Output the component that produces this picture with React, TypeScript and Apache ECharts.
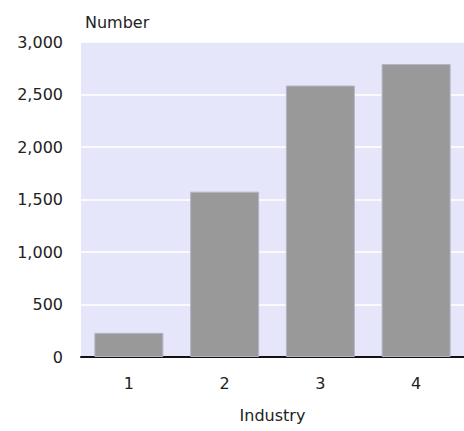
import React, { useEffect, useRef } from "react";
import * as echarts from "echarts";

const categories = ["1", "2", "3", "4"];
const values = [230, 1575, 2585, 2790];
const xAxisName = "Industry";
const yAxisName = "Number";

const FONT = "DejaVu Sans";

export default function App() {
  const ref = useRef<HTMLDivElement>(null);
  useEffect(() => {
    if (!ref.current) return;
    const chart = echarts.init(ref.current, undefined, { renderer: "svg" });
    chart.setOption({
      animation: false,
      backgroundColor: "#ffffff",
      grid: {
        left: 81,
        right: 0,
        top: 42,
        bottom: 74,
        show: true,
        backgroundColor: "#e6e6fa",
        borderWidth: 0,
      },
      xAxis: {
        type: "category",
        data: categories,
        name: xAxisName,
        nameLocation: "middle",
        nameGap: 50,
        nameTextStyle: { fontFamily: FONT, fontSize: 16, color: "#222" },
        axisLine: { show: true, lineStyle: { color: "#111", width: 2 } },
        axisTick: { show: false },
        axisLabel: { margin: 18, fontFamily: FONT, fontSize: 16, color: "#222" },
        splitLine: { show: false },
      },
      yAxis: {
        type: "value",
        min: 0,
        max: 3000,
        interval: 500,
        name: yAxisName,
        nameLocation: "end",
        nameGap: 12,
        nameTextStyle: {
          fontFamily: FONT,
          fontSize: 16,
          color: "#222",
          align: "left",
          verticalAlign: "bottom",
          padding: [0, 0, 0, 4],
        },
        axisLine: { show: false },
        axisTick: { show: false },
        axisLabel: {
          margin: 18,
          fontFamily: FONT,
          fontSize: 16,
          color: "#222",
          formatter: (v: number) => v.toLocaleString("en-US"),
        },
        splitLine: { show: true, lineStyle: { color: "#ffffff", width: 1.5 } },
      },
      series: [
        {
          type: "bar",
          data: values,
          barWidth: 69,
          itemStyle: { color: "#999999", borderColor: "#b4b4c6", borderWidth: 1 },
        },
      ],
    });
    return () => chart.dispose();
  }, []);
  return (
    <div
      ref={ref}
      style={{ position: "fixed", left: 0, top: 0, width: 464, height: 431 }}
    />
  );
}
